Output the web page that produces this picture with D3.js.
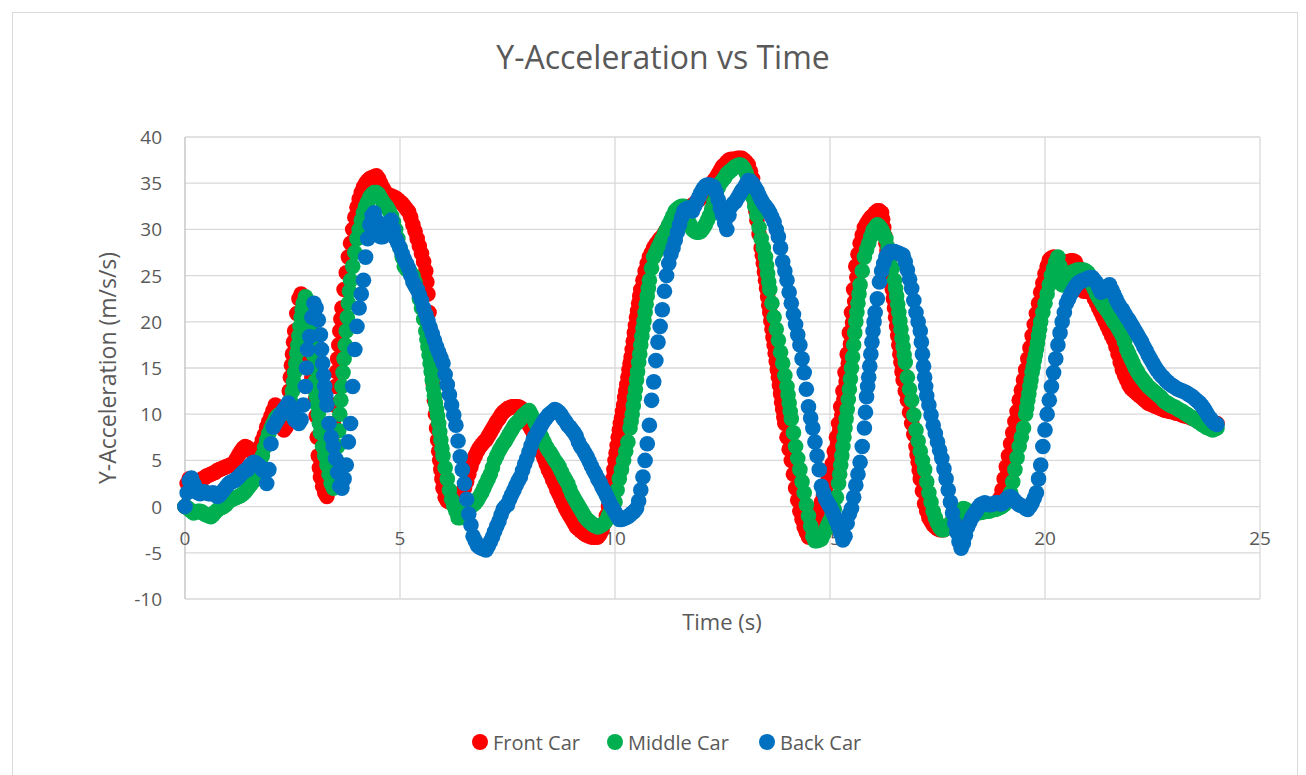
<!DOCTYPE html>
<html>
<head>
<meta charset="utf-8">
<script src="https://cdn.jsdelivr.net/npm/d3@7"></script>
<style>
  html, body { margin: 0; padding: 0; background: #ffffff; }
  svg text { font-family: "Open Sans", "Liberation Sans", sans-serif; fill: #595959; }
</style>
</head>
<body>
<svg id="chart" width="1306" height="775"></svg>
<script>
// ---- data (sampled every 0.05 s from 0 to 24 s) ----
const sampleStep = 0.05;
const time = d3.range(481).map(i => +(i * sampleStep).toFixed(2));

const frontCar = [
0,2.5,3.0,2.8,2.6,2.6,2.7,2.8,3.0,3.1,3.3,3.4,3.5,3.6,3.7,3.9,4.0,4.1,4.2,4.3,
4.4,4.5,4.5,4.8,5.2,5.6,6.0,6.3,6.5,6.4,6.2,6.0,5.6,5.4,5.8,6.5,7.2,7.8,8.6,9.2,
9.8,10.4,11.0,10.8,10.0,8.8,8.3,8.6,11.0,14.0,16.5,19.0,20.9,22.5,23.0,22.2,20.2,18.0,16.0,14.0,
12.8,9.8,5.5,3.2,2.2,1.5,1.1,2.0,5.0,9.0,13.0,16.0,19.0,21.5,23.5,25.3,27.0,28.5,30.0,31.3,
32.4,33.3,34.0,34.6,35.0,35.3,35.5,35.6,35.7,35.8,35.5,35.0,34.5,34.1,33.8,33.7,33.6,33.5,33.4,33.2,
33.0,32.8,32.5,32.2,31.9,31.3,30.5,29.8,29.0,28.2,27.4,26.5,25.5,23.0,19.0,15.0,11.5,8.5,6.0,4.0,
2.0,1.0,0.6,0.5,0.5,0.6,0.8,1.0,1.2,1.6,2.0,2.7,3.5,4.3,5.0,5.5,6.0,6.4,6.7,7.0,
7.2,7.6,8.0,8.4,8.8,9.2,9.5,9.9,10.2,10.4,10.6,10.7,10.8,10.8,10.8,10.8,10.7,10.5,10.0,9.4,
8.8,8.4,8.0,7.5,7.0,6.4,5.8,5.2,4.6,4.0,3.5,2.9,2.4,1.8,1.3,0.8,0.3,-0.2,-0.6,-1.0,
-1.4,-1.8,-2.2,-2.4,-2.6,-2.8,-3.0,-3.1,-3.2,-3.3,-3.3,-3.3,-3.3,-3.0,-2.5,-1.8,-1.0,0.0,1.5,3.0,
5.0,6.6,8.3,9.6,11.0,12.5,14.0,15.5,17.0,18.8,20.5,22.0,23.5,24.5,25.5,26.3,27.0,27.5,28.0,28.4,
28.7,29.0,29.2,29.6,30.0,30.4,30.7,31.0,31.3,31.5,31.7,31.9,32.0,32.2,32.3,32.5,32.6,32.8,33.0,33.2,
33.4,33.6,33.8,34.1,34.5,34.9,35.3,35.6,36.0,36.4,36.8,37.0,37.3,37.5,37.6,37.6,37.6,37.7,37.7,37.7,
37.5,37.3,37.0,36.3,35.5,33.0,31.0,29.5,28.0,26.3,24.5,22.7,21.0,19.2,17.5,15.7,14.0,12.2,10.5,9.0,
7.5,6.2,5.0,3.5,2.0,0.7,-0.5,-1.4,-2.2,-2.8,-3.3,-3.3,-3.0,-2.0,-1.0,-0.2,0.5,1.2,2.0,2.8,
3.5,4.6,6.0,7.5,9.0,10.8,12.5,14.5,16.5,18.8,21.0,23.5,26.0,27.3,28.5,29.4,30.2,30.6,31.0,31.3,
31.5,31.8,32.0,32.0,31.8,30.2,28.5,27.0,25.6,23.5,21.5,19.5,17.5,15.6,13.7,12.5,11.5,10.2,9.0,7.8,
6.5,4.8,3.0,1.7,0.3,-0.5,-1.2,-1.6,-2.0,-2.2,-2.4,-2.5,-2.5,-2.5,-2.3,-2.2,-2.0,-1.8,-1.6,-1.4,
-1.2,-1.1,-1.0,-0.9,-0.8,-0.7,-0.6,-0.5,-0.5,-0.4,-0.4,-0.3,-0.3,-0.2,-0.2,-0.1,-0.1,0.0,0.2,0.9,
1.8,3.0,4.3,5.5,6.8,8.0,9.2,10.3,11.5,12.6,13.7,14.8,16.0,17.2,18.5,19.7,20.9,22.0,23.2,24.2,
25.2,26.0,26.7,26.9,27.0,26.9,26.8,26.6,26.5,26.5,26.5,26.5,26.6,26.6,26.5,26.0,25.0,24.0,23.3,23.3,
23.5,23.3,23.0,22.5,22.0,21.5,21.0,20.5,20.0,19.5,19.0,18.5,18.0,17.3,16.5,15.6,14.8,14.2,13.7,13.2,
12.8,12.6,12.4,12.2,12.0,11.8,11.6,11.4,11.2,11.1,11.0,10.9,10.8,10.7,10.6,10.5,10.4,10.4,10.3,10.3,
10.2,10.1,10.1,10.0,9.9,9.8,9.8,9.7,9.6,9.5,9.5,9.4,9.3,9.3,9.2,9.2,9.1,9.1,9.0,9.0,
9.0];

// extra samples read in the steep stretches, as [time, value]
const frontCarExtra = [
[2.375,9.6],[2.425,12.5],[2.475,15.3],[2.525,17.8],
[3.025,11.5],[3.075,7.5],[3.125,4.2],
[3.375,3.3],[3.425,7.0],[3.475,11.0],[3.525,14.6],[3.575,17.5],[3.625,20.3],
[5.625,24.3],[5.675,21.0],[5.725,17.0],[5.775,13.2],[5.825,10.0],[5.875,7.2],[5.925,5.0],[5.975,3.0],
[9.975,4.0],[10.025,5.8],[10.075,7.5],[10.125,9.0],[10.175,10.3],[10.225,11.8],[10.275,13.2],
[10.325,14.8],[10.375,16.2],[10.425,17.9],[10.475,19.6],[10.525,21.2],[10.575,22.8],
[13.225,34.3],[13.275,32.0],[13.425,27.2],[13.475,25.4],[13.525,23.6],[13.575,21.8],[13.625,20.1],
[13.675,18.3],[13.725,16.6],[13.775,14.8],[13.825,13.1],[13.875,11.3],[13.925,9.7],
[15.125,5.3],[15.175,6.7],[15.225,8.2],[15.275,9.9],[15.325,11.6],[15.375,13.5],[15.425,15.5],
[15.475,17.6],[15.525,19.9],[15.575,22.2],[15.625,24.8],
[16.225,31.1],[16.275,29.3],[16.325,27.7],[16.375,26.3],[16.425,24.5],[16.475,22.5],[16.525,20.5],
[16.575,18.5],[16.625,16.5],[16.675,14.6],
[17.025,5.6],[17.075,3.9]];

const middleCar = [
0,-0.1,-0.3,-0.5,-0.7,-0.6,-0.5,-0.5,-0.6,-0.8,-0.9,-1.0,-1.1,-0.9,-0.6,-0.4,-0.2,-0.1,0.0,0.2,
0.5,0.7,0.8,0.9,1.0,1.1,1.2,1.4,1.6,1.9,2.2,2.5,2.8,3.3,3.8,4.6,5.5,6.4,7.2,7.9,
8.5,9.0,9.5,9.8,10.0,10.0,10.1,10.3,10.5,11.5,12.5,14.5,16.6,18.5,20.5,22.0,22.7,22.3,20.5,18.0,
15.0,12.0,10.0,8.0,6.5,5.5,4.5,3.5,2.5,2.0,3.5,6.5,10.0,13.0,16.0,19.0,22.0,24.5,26.0,27.5,
29.0,30.0,31.0,31.8,32.5,33.0,33.5,33.8,34.0,34.0,33.8,33.4,33.0,32.7,32.4,32.0,31.5,30.8,30.0,29.0,
28.0,27.0,26.0,25.7,25.5,25.3,25.0,24.3,23.5,22.5,21.5,20.3,19.0,17.3,15.5,13.7,12.0,10.5,9.0,7.2,
5.5,4.2,3.0,1.8,0.8,0.1,-0.5,-1.2,-1.2,-1.0,-0.8,-0.5,-0.3,0.0,0.2,0.4,0.7,1.1,1.5,2.0,
2.5,3.0,3.5,4.2,5.0,5.5,6.0,6.4,6.8,7.1,7.5,7.9,8.3,8.7,9.0,9.2,9.5,9.8,10.0,10.2,
10.4,10.0,9.5,9.0,8.5,8.0,7.5,7.0,6.5,6.1,5.8,5.4,5.0,4.7,4.3,3.8,3.3,2.9,2.5,1.9,
1.3,0.9,0.5,0.1,-0.3,-0.7,-1.1,-1.4,-1.6,-1.8,-2.0,-2.1,-2.2,-2.1,-2.0,-1.8,-1.5,-1.0,-0.5,0.0,
0.5,1.8,3.0,4.0,5.0,6.0,7.0,8.5,10.0,11.8,13.7,15.6,17.5,19.3,21.0,22.8,24.5,25.8,27.0,27.5,
28.0,28.5,29.0,29.5,30.0,30.5,31.0,31.5,32.0,32.2,32.4,32.5,32.5,31.8,31.0,30.5,30.0,29.8,29.7,29.7,
29.8,30.1,30.5,31.0,31.5,32.2,33.0,33.8,34.5,35.0,35.3,35.6,36.0,36.2,36.4,36.6,36.8,36.9,37.0,36.9,
36.6,36.1,35.5,34.5,33.5,32.5,31.5,30.2,29.0,28.0,27.0,25.2,23.5,22.0,20.5,19.2,18.0,16.7,15.5,14.2,
13.0,11.2,9.5,8.0,6.5,5.2,4.0,2.7,1.5,0.2,-1.0,-2.1,-3.2,-3.7,-3.7,-3.6,-3.5,-3.0,-2.5,-2.0,
-1.5,-0.9,-0.3,1.0,2.5,4.5,6.5,8.5,10.5,12.7,15.0,17.5,20.0,22.0,24.0,25.5,27.0,27.8,28.5,29.2,
29.9,30.2,30.5,30.3,30.0,29.5,29.0,28.0,27.0,25.8,24.5,22.8,21.0,19.2,17.3,15.6,14.0,12.7,11.5,9.9,
8.3,7.1,6.0,5.0,4.0,2.7,1.5,0.5,-0.5,-1.2,-1.8,-2.2,-2.5,-2.5,-2.3,-2.1,-1.8,-1.5,-1.2,-0.9,
-0.6,-0.4,-0.2,-0.3,-0.5,-0.6,-0.8,-0.8,-0.7,-0.7,-0.6,-0.6,-0.5,-0.5,-0.5,-0.4,-0.3,-0.3,-0.2,-0.1,
0.0,0.2,0.5,1.0,1.5,2.7,4.0,5.3,6.5,7.5,8.5,10.0,11.5,13.0,14.5,15.8,17.0,18.5,20.0,21.0,
22.0,23.0,24.0,25.0,25.8,26.5,27.0,26.0,24.0,24.2,24.5,24.9,25.3,25.4,25.5,25.6,25.6,25.6,25.6,25.5,
25.3,24.7,24.0,23.5,23.0,22.6,22.2,21.8,21.5,21.2,20.8,20.4,20.0,19.7,19.3,18.9,18.5,17.8,17.0,16.5,
16.0,15.5,15.0,14.6,14.2,13.9,13.6,13.3,13.0,12.8,12.6,12.4,12.2,12.0,11.8,11.5,11.3,11.2,11.0,10.9,
10.8,10.7,10.5,10.4,10.3,10.1,10.0,9.8,9.7,9.5,9.4,9.2,9.1,8.9,8.8,8.6,8.5,8.4,8.3,8.4,
8.5];

const middleCarExtra = [
[2.525,13.5],[2.575,15.5],[2.625,17.5],[2.675,19.5],[2.725,21.3],
[2.875,21.5],[2.925,19.3],[2.975,16.5],[3.025,13.5],[3.075,11.0],[3.125,9.0],
[3.525,5.0],[3.575,8.2],[3.625,11.5],[3.675,14.5],[3.725,17.5],[3.775,20.5],[3.825,23.3],
[5.625,18.1],[5.675,16.4],[5.725,14.6],[5.775,12.8],[5.825,11.2],[5.875,9.8],[5.925,8.1],[5.975,6.3],
[10.375,9.2],[10.425,10.9],[10.475,12.7],[10.525,14.6],[10.575,16.5],[10.625,18.4],[10.675,20.1],
[10.725,21.9],[10.775,23.6],
[13.525,26.1],[13.575,24.3],[14.025,12.1],[14.075,10.3],
[15.225,3.5],[15.275,5.5],[15.325,7.5],[15.375,9.5],[15.425,11.6],[15.475,13.8],[15.525,16.2],
[15.575,18.8],[15.625,21.0],[15.675,23.0],
[16.525,23.6],[16.575,21.9],[16.625,20.1],[16.675,18.2],[16.725,16.4],
[19.575,10.7],[19.625,12.2],[19.675,13.7],[19.725,15.1],[19.775,16.4],[19.825,17.7],[19.875,19.2],
[20.375,25.0]];

const backCar = [
0,1.5,2.8,3.1,2.5,2.0,1.5,1.4,1.5,1.6,1.5,1.4,1.4,1.5,1.3,1.1,1.2,1.5,1.8,2.1,
2.4,2.6,2.7,2.8,3.0,3.2,3.5,3.7,3.9,4.0,4.4,4.6,4.8,4.7,4.5,4.3,4.0,3.8,2.5,4.0,
6.8,8.6,9.0,9.4,9.8,10.1,10.5,10.8,11.2,10.8,10.3,9.4,9.2,9.0,9.4,11.0,13.0,17.0,18.4,20.5,
22.0,21.5,20.2,18.6,15.5,13.0,11.0,9.0,7.5,6.5,5.2,3.7,2.2,2.0,3.0,4.5,7.0,9.0,13.0,17.0,
19.5,21.5,23.0,24.5,27.0,29.0,30.5,31.5,31.8,31.0,29.7,29.2,29.2,29.6,30.2,30.8,31.0,30.0,29.0,28.5,
28.0,27.4,26.8,26.3,25.8,25.0,24.3,23.9,23.5,22.9,22.3,21.5,20.8,20.1,19.4,18.7,18.0,17.3,16.7,16.1,
15.5,14.3,13.2,12.1,11.0,9.9,8.8,7.1,5.4,4.0,2.5,0.8,-0.8,-2.0,-3.2,-3.7,-4.2,-4.4,-4.5,-4.6,
-4.7,-4.3,-3.8,-3.3,-2.7,-2.1,-1.6,-0.9,-0.3,0.0,0.2,0.8,1.3,1.8,2.3,2.8,3.2,3.9,4.6,5.2,
5.9,6.6,7.3,7.7,8.1,8.5,8.9,9.3,9.6,9.9,10.1,10.3,10.5,10.4,10.2,9.9,9.5,9.2,8.8,8.6,
8.3,8.0,7.6,7.0,6.5,6.2,5.8,5.4,4.9,4.4,3.9,3.5,3.0,2.6,2.1,1.7,1.2,0.7,0.2,-0.2,
-0.6,-1.0,-1.4,-1.4,-1.3,-1.2,-1.1,-0.9,-0.7,-0.5,-0.2,0.6,1.8,3.2,5.0,6.8,8.8,11.5,13.5,15.8,
17.8,19.5,21.3,23.3,25.0,26.3,27.3,28.0,28.8,29.7,30.5,31.3,32.0,32.2,32.3,32.2,32.0,32.5,33.0,33.5,
34.0,34.4,34.7,34.8,34.8,34.7,34.6,34.0,33.2,32.3,31.5,30.7,30.0,31.5,32.5,32.8,33.0,33.4,33.8,34.2,
34.5,34.9,35.3,35.2,35.0,34.6,34.2,33.7,33.2,32.8,32.5,32.2,31.8,31.3,30.8,30.0,29.2,28.0,26.5,25.5,
24.5,23.2,22.0,20.8,19.7,18.6,17.5,16.0,14.5,12.7,10.8,9.6,8.5,7.0,5.5,4.0,2.2,1.5,0.8,0.4,
0.0,-0.5,-1.0,-1.6,-2.2,-2.9,-3.6,-3.2,-1.8,-0.8,-0.2,1.0,2.3,3.5,4.8,6.5,8.5,11.9,14.0,16.5,
19.0,21.0,22.5,24.3,25.5,26.3,27.0,27.4,27.6,27.6,27.6,27.5,27.4,27.3,27.2,26.5,25.6,24.6,23.6,22.3,
21.0,20.0,19.0,16.5,14.0,12.0,11.0,9.9,8.8,7.9,7.0,6.1,5.2,4.1,3.0,1.8,0.5,-0.7,-1.8,-2.8,
-3.8,-4.5,-4.0,-3.1,-2.2,-1.7,-1.2,-0.8,-0.5,-0.1,0.2,0.3,0.4,0.3,0.2,0.2,0.3,0.4,0.4,0.3,
0.3,0.5,0.8,1.0,1.1,0.9,0.6,0.4,0.2,0.1,0.0,-0.2,-0.3,0.0,0.4,0.9,1.5,3.0,4.5,6.5,
8.3,10.0,11.5,13.0,14.5,16.0,17.5,18.8,20.0,21.0,22.0,22.5,23.0,23.4,23.8,24.1,24.3,24.4,24.5,24.6,
24.7,24.8,24.8,24.5,24.2,23.7,23.2,23.3,23.5,23.8,24.0,23.5,23.0,22.5,22.0,21.6,21.3,20.9,20.5,20.2,
19.8,19.4,19.0,18.6,18.2,17.8,17.3,16.9,16.4,16.0,15.6,15.2,14.8,14.5,14.2,14.0,13.7,13.5,13.3,13.1,
13.0,12.8,12.7,12.6,12.5,12.4,12.3,12.1,12.0,11.8,11.6,11.4,11.2,10.9,10.6,10.2,9.8,9.5,9.2,9.0,
8.9];

const backCarExtra = [
[2.825,15.0],[3.175,17.0],[3.225,14.2],[3.275,12.0],
[15.825,10.2],[15.875,13.0],[15.925,15.2],[15.975,17.8],[16.025,20.0],
[17.125,17.8],[17.175,15.2],[17.225,13.0]];

const seriesNames = ["Front Car", "Middle Car", "Back Car"];
const seriesColors = ["#ff0000", "#00b050", "#0070c0"];
const seriesValues = [frontCar, middleCar, backCar];
const seriesExtra = [frontCarExtra, middleCarExtra, backCarExtra];

const xTicks = [0, 5, 10, 15, 20, 25];
const yTicks = [-10, -5, 0, 5, 10, 15, 20, 25, 30, 35, 40];

const chartTitle = "Y-Acceleration vs Time";
const xTitle = "Time (s)";
const yTitle = "Y-Acceleration (m/s/s)";

// ---- layout ----
const svg = d3.select("#chart");
const plot = { left: 185, right: 1260, top: 137, bottom: 599 };

svg.append("rect")
  .attr("x", 12.5).attr("y", 12.5)
  .attr("width", 1285).attr("height", 800)
  .attr("fill", "#ffffff").attr("stroke", "#d9d9d9").attr("stroke-width", 1);

const x = d3.scaleLinear().domain([0, 25]).range([plot.left, plot.right]);
const y = d3.scaleLinear().domain([-10, 40]).range([plot.bottom, plot.top]);

// horizontal gridlines
svg.append("g")
  .selectAll("line").data(yTicks).join("line")
  .attr("x1", plot.left).attr("x2", plot.right)
  .attr("y1", d => y(d)).attr("y2", d => y(d))
  .attr("stroke", "#d9d9d9").attr("stroke-width", 1.3);

// vertical gridlines
svg.append("g")
  .selectAll("line").data(xTicks).join("line")
  .attr("x1", d => x(d)).attr("x2", d => x(d))
  .attr("y1", plot.top).attr("y2", plot.bottom)
  .attr("stroke", d => d === 0 ? "#bfbfbf" : "#d9d9d9").attr("stroke-width", 1.3);

// y tick labels
svg.append("g")
  .selectAll("text").data(yTicks).join("text")
  .attr("x", 162).attr("y", d => y(d))
  .attr("text-anchor", "end").attr("dominant-baseline", "central")
  .style("font-size", "19px")
  .text(d => d);

// x tick labels (placed at axis crossing y = 0)
svg.append("g")
  .selectAll("text").data(xTicks).join("text")
  .attr("x", d => x(d)).attr("y", y(0) + 31)
  .attr("text-anchor", "middle").attr("dominant-baseline", "central")
  .style("font-size", "19px")
  .text(d => d);

// series markers
seriesValues.forEach((vals, si) => {
  const pts = time.map((t, i) => ({ t, v: vals[i] }))
    .concat(seriesExtra[si].map(([t, v]) => ({ t, v })))
    .sort((a, b) => a.t - b.t);
  svg.append("g")
    .selectAll("circle").data(pts).join("circle")
    .attr("cx", d => x(d.t)).attr("cy", d => y(d.v))
    .attr("r", 7.8)
    .attr("fill", seriesColors[si]);
});

// titles
svg.append("text")
  .attr("x", 663).attr("y", 56)
  .attr("text-anchor", "middle").attr("dominant-baseline", "central")
  .style("font-size", "32px")
  .text(chartTitle);

svg.append("text")
  .attr("x", 722).attr("y", 621)
  .attr("text-anchor", "middle").attr("dominant-baseline", "central")
  .style("font-size", "22px")
  .text(xTitle);

svg.append("text")
  .attr("transform", `translate(107,${(plot.top + plot.bottom) / 2}) rotate(-90)`)
  .attr("text-anchor", "middle").attr("dominant-baseline", "central")
  .style("font-size", "23px")
  .text(yTitle);

// legend
const legendX = [480, 615, 767];
const legend = svg.append("g");
seriesNames.forEach((name, i) => {
  legend.append("circle")
    .attr("cx", legendX[i]).attr("cy", 742).attr("r", 8)
    .attr("fill", seriesColors[i]);
  legend.append("text")
    .attr("x", legendX[i] + 13).attr("y", 742)
    .attr("dominant-baseline", "central")
    .style("font-size", "20px")
    .text(name);
});
</script>
</body>
</html>
